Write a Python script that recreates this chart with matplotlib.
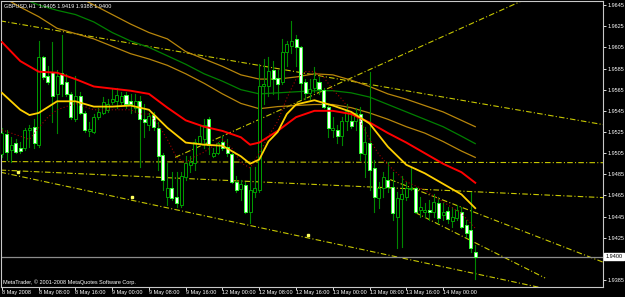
import matplotlib
matplotlib.use("Agg")
import matplotlib.pyplot as plt
from matplotlib import font_manager
from matplotlib.patches import Rectangle

installed = {f.name for f in font_manager.fontManager.ttflist}
if 'Liberation Sans Narrow' in installed:
    plt.rcParams['font.family'] = ['Liberation Sans Narrow', 'DejaVu Sans']
    fsize = 4.8
else:
    plt.rcParams['font.family'] = ['Liberation Sans', 'DejaVu Sans']
    fsize = 4.0

# GBPUSD H1, 8 May 2008 00:00 .. 14 May 2008 07:00 (104 bars)
opens = [1.9504, 1.9523, 1.9508, 1.9515, 1.9510, 1.9510, 1.9527, 1.9530, 1.9513, 1.9596,
         1.9578, 1.9582, 1.9561, 1.9581, 1.9572, 1.9561, 1.9537, 1.9559, 1.9543, 1.9526,
         1.9525, 1.9539, 1.9543, 1.9546, 1.9553, 1.9554, 1.9553, 1.9560, 1.9554, 1.9548,
         1.9554, 1.9537, 1.9532, 1.9541, 1.9529, 1.9503, 1.9464, 1.9472, 1.9464, 1.9456,
         1.9482, 1.9494, 1.9496, 1.9515, 1.9518, 1.9537, 1.9502, 1.9505, 1.9516, 1.9511,
         1.9504, 1.9478, 1.9471, 1.9475, 1.9449, 1.9468, 1.9470, 1.9568, 1.9568, 1.9584,
         1.9576, 1.9572, 1.9601, 1.9606, 1.9613, 1.9605, 1.9572, 1.9562, 1.9567, 1.9572,
         1.9565, 1.9549, 1.9527, 1.9527, 1.9521, 1.9535, 1.9535, 1.9535, 1.9542, 1.9504,
         1.9515, 1.9491, 1.9463, 1.9472, 1.9480, 1.9473, 1.9445, 1.9462, 1.9464, 1.9471,
         1.9472, 1.9451, 1.9449, 1.9451, 1.9449, 1.9458, 1.9447, 1.9450, 1.9441, 1.9444,
         1.9449, 1.9437, 1.9432, 1.9412]
highs = [1.9529, 1.9527, 1.9520, 1.9518, 1.9516, 1.9529, 1.9532, 1.9537, 1.9611, 1.9597,
         1.9587, 1.9610, 1.9584, 1.9617, 1.9580, 1.9563, 1.9578, 1.9563, 1.9545, 1.9534,
         1.9542, 1.9548, 1.9558, 1.9556, 1.9567, 1.9567, 1.9563, 1.9563, 1.9561, 1.9561,
         1.9559, 1.9551, 1.9543, 1.9544, 1.9534, 1.9505, 1.9496, 1.9487, 1.9487, 1.9487,
         1.9502, 1.9502, 1.9518, 1.9532, 1.9537, 1.9539, 1.9510, 1.9516, 1.9521, 1.9518,
         1.9505, 1.9483, 1.9480, 1.9478, 1.9492, 1.9492, 1.9589, 1.9594, 1.9596, 1.9592,
         1.9584, 1.9613, 1.9611, 1.9630, 1.9617, 1.9606, 1.9575, 1.9575, 1.9586, 1.9577,
         1.9567, 1.9551, 1.9539, 1.9532, 1.9539, 1.9551, 1.9542, 1.9548, 1.9549, 1.9530,
         1.9582, 1.9499, 1.9478, 1.9487, 1.9497, 1.9487, 1.9468, 1.9483, 1.9478, 1.9491,
         1.9473, 1.9464, 1.9458, 1.9461, 1.9466, 1.9464, 1.9458, 1.9454, 1.9454, 1.9456,
         1.9454, 1.9442, 1.9468, 1.9418]
lows = [1.9501, 1.9499, 1.9497, 1.9505, 1.9505, 1.9508, 1.9511, 1.9510, 1.9511, 1.9575,
        1.9570, 1.9534, 1.9524, 1.9559, 1.9559, 1.9537, 1.9535, 1.9542, 1.9525, 1.9521,
        1.9524, 1.9537, 1.9542, 1.9544, 1.9551, 1.9548, 1.9551, 1.9548, 1.9543, 1.9544,
        1.9492, 1.9520, 1.9527, 1.9527, 1.9489, 1.9470, 1.9456, 1.9461, 1.9454, 1.9454,
        1.9480, 1.9487, 1.9489, 1.9513, 1.9510, 1.9504, 1.9501, 1.9504, 1.9508, 1.9502,
        1.9477, 1.9468, 1.9461, 1.9448, 1.9439, 1.9464, 1.9468, 1.9551, 1.9559, 1.9561,
        1.9556, 1.9570, 1.9587, 1.9600, 1.9587, 1.9556, 1.9556, 1.9556, 1.9563, 1.9561,
        1.9548, 1.9520, 1.9520, 1.9515, 1.9513, 1.9527, 1.9529, 1.9527, 1.9499, 1.9482,
        1.9470, 1.9449, 1.9453, 1.9464, 1.9468, 1.9442, 1.9415, 1.9416, 1.9461, 1.9470,
        1.9448, 1.9445, 1.9445, 1.9442, 1.9445, 1.9439, 1.9442, 1.9439, 1.9435, 1.9442,
        1.9434, 1.9426, 1.9412, 1.9386]
closes = [1.9524, 1.9506, 1.9513, 1.9506, 1.9507, 1.9527, 1.9529, 1.9515, 1.9596, 1.9577,
          1.9572, 1.9559, 1.9578, 1.9570, 1.9561, 1.9539, 1.9559, 1.9543, 1.9527, 1.9528,
          1.9539, 1.9544, 1.9553, 1.9551, 1.9556, 1.9560, 1.9559, 1.9551, 1.9551, 1.9554,
          1.9537, 1.9534, 1.9540, 1.9530, 1.9502, 1.9480, 1.9472, 1.9463, 1.9458, 1.9483,
          1.9496, 1.9497, 1.9516, 1.9521, 1.9532, 1.9513, 1.9505, 1.9515, 1.9510, 1.9505,
          1.9478, 1.9470, 1.9476, 1.9449, 1.9470, 1.9472, 1.9568, 1.9570, 1.9583, 1.9575,
          1.9570, 1.9601, 1.9608, 1.9611, 1.9605, 1.9571, 1.9562, 1.9566, 1.9575, 1.9566,
          1.9549, 1.9529, 1.9529, 1.9521, 1.9535, 1.9545, 1.9531, 1.9543, 1.9505, 1.9516,
          1.9489, 1.9464, 1.9472, 1.9482, 1.9473, 1.9448, 1.9463, 1.9466, 1.9472, 1.9472,
          1.9449, 1.9454, 1.9451, 1.9449, 1.9459, 1.9444, 1.9449, 1.9443, 1.9445, 1.9451,
          1.9435, 1.9430, 1.9415, 1.9407]

# moving averages (bar index -> price)
red_x = [0, 4, 8, 12, 16, 20, 24, 28, 32, 36, 40, 44, 48, 52, 54, 56, 60, 64, 68, 72,
         76, 80, 84, 88, 92, 96, 100, 103]
red_y = [1.9610, 1.9592, 1.9582, 1.9581, 1.9575, 1.9568, 1.9566, 1.9564, 1.9561, 1.9548,
         1.9536, 1.9530, 1.9526, 1.9520, 1.9513, 1.9515, 1.9526, 1.9539, 1.9545, 1.9545,
         1.9542, 1.9534, 1.9524, 1.9515, 1.9505, 1.9495, 1.9487, 1.9477]
gold_x = [0, 4, 6, 8, 12, 16, 20, 24, 28, 32, 36, 40, 44, 48, 52, 54, 56, 58, 60, 62,
          64, 68, 72, 76, 80, 84, 88, 92, 96, 100, 103]
gold_y = [1.9562, 1.9546, 1.9541, 1.9543, 1.9554, 1.9554, 1.9549, 1.9549, 1.9550, 1.9546,
          1.9529, 1.9515, 1.9513, 1.9512, 1.9502, 1.9495, 1.9499, 1.9516, 1.9525, 1.9542,
          1.9551, 1.9555, 1.9550, 1.9544, 1.9533, 1.9511, 1.9494, 1.9486, 1.9476, 1.9466,
          1.9453]
dot_x = [0, 4, 6, 8, 10, 12, 16, 20, 24, 28, 30, 32, 34, 36, 38, 40, 42, 44, 46, 48,
         50, 52, 54, 56, 58, 60, 62, 64, 66, 68, 70, 72, 74, 76, 78, 80, 82, 84, 88, 92,
         96, 100, 103]
dot_y = [1.9527, 1.9521, 1.9518, 1.9529, 1.9539, 1.9546, 1.9552, 1.9546, 1.9546, 1.9546,
         1.9542, 1.9542, 1.9532, 1.9518, 1.9501, 1.9496, 1.9502, 1.9506, 1.9512, 1.9518,
         1.9510, 1.9496, 1.9491, 1.9505, 1.9521, 1.9535, 1.9557, 1.9575, 1.9582, 1.9582,
         1.9577, 1.9565, 1.9556, 1.9544, 1.9535, 1.9518, 1.9504, 1.9494, 1.9478, 1.9470,
         1.9459, 1.9448, 1.9434]
env_x = [0, 4, 8, 12, 16, 20, 24, 28, 32, 36, 40, 44, 48, 52, 56, 60, 64, 68, 72, 76,
         80, 84, 88, 92, 96, 100, 103]
green_y = [1.9658, 1.9652, 1.9645, 1.9640, 1.9636, 1.9629, 1.9619, 1.9611, 1.9605, 1.9597,
           1.9589, 1.9580, 1.9573, 1.9565, 1.9561, 1.9562, 1.9563, 1.9564, 1.9564, 1.9562,
           1.9558, 1.9551, 1.9544, 1.9537, 1.9530, 1.9521, 1.9514]
upper_y = [1.9684, 1.9677, 1.9670, 1.9662, 1.9654, 1.9645, 1.9636, 1.9627, 1.9619, 1.9613,
           1.9601, 1.9594, 1.9587, 1.9579, 1.9575, 1.9575, 1.9577, 1.9580, 1.9579, 1.9574,
           1.9568, 1.9561, 1.9556, 1.9550, 1.9544, 1.9536, 1.9530]
lower_y = [1.9653, 1.9643, 1.9634, 1.9623, 1.9618, 1.9613, 1.9606, 1.9599, 1.9594, 1.9588,
           1.9580, 1.9571, 1.9561, 1.9552, 1.9547, 1.9549, 1.9550, 1.9551, 1.9551, 1.9548,
           1.9543, 1.9537, 1.9530, 1.9524, 1.9516, 1.9507, 1.9501]

# hand drawn trend lines: (bar0, price0, bar1, price1)
trend_lines = [(-0.3, 1.9630, 130.8, 1.9532),
               (37.7, 1.9501, 114.2, 1.9651),
               (-0.3, 1.9497, 130.8, 1.9496),
               (-0.3, 1.9489, 130.8, 1.9463),
               (-0.3, 1.9487, 118.2, 1.9377),
               (84.5, 1.9480, 130.8, 1.9402),
               (89.9, 1.9449, 118.2, 1.9387)]
marks_x = [3.4, 28.4, 66.6]
marks_y = [1.9487, 1.9464, 1.9428]

tick_bars = [0, 8, 16, 24, 32, 40, 48, 56, 64, 72, 80, 88, 96]
tick_text = ["8 May 2008", "8 May 08:00", "8 May 16:00", "9 May 00:00", "9 May 08:00",
             "9 May 16:00", "12 May 00:00", "12 May 08:00", "12 May 16:00",
             "13 May 00:00", "13 May 08:00", "13 May 16:00", "14 May 00:00"]
price_ticks = [1.9645, 1.9625, 1.9605, 1.9585, 1.9565, 1.9545, 1.9525, 1.9505, 1.9485,
               1.9465, 1.9445, 1.9425, 1.9405, 1.9385]

fig = plt.figure(figsize=(6.25, 2.97), dpi=100, facecolor="black")
ax = fig.add_axes([1 / 625, 10 / 297, 602 / 625, 286 / 297], facecolor="black")

# trend lines first (behind everything)
for x0, y0, x1, y1 in trend_lines:
    ax.plot([x0, x1], [y0, y1], color="#c8c800", lw=0.8, ls=(0, (5, 2, 1, 2)), zorder=1)
ax.plot(marks_x, marks_y, ls="none", marker="s", ms=2, color="#ffff60", zorder=2)

# envelopes
ax.plot(env_x, upper_y, color="#b8860b", lw=0.9, zorder=2)
ax.plot(env_x, lower_y, color="#b8860b", lw=0.9, zorder=2)
ax.plot(env_x, green_y, color="#008000", lw=0.9, zorder=2)

# candles
for i in range(len(opens)):
    o, h, l, c = opens[i], highs[i], lows[i], closes[i]
    ax.plot([i, i], [l, h], color="#008800", lw=0.8, zorder=3)
    bottom = min(o, c)
    height = max(abs(c - o), 0.00005)
    if c >= o:
        face, edge = "black", "#00a000"
    else:
        face, edge = "white", "#30ff30"
    ax.add_patch(Rectangle((i - 0.33, bottom), 0.66, height, facecolor=face,
                           edgecolor=edge, lw=0.7, zorder=4))

ax.plot(dot_x, dot_y, color="#a00000", lw=0.8, ls=(0, (1, 2)), zorder=5)
ax.plot(red_x, red_y, color="#ff0000", lw=1.4, zorder=6)
ax.plot(gold_x, gold_y, color="#ffd000", lw=1.3, zorder=7)

# bid line
ax.axhline(closes[-1], color="#8c8c8c", lw=0.9, zorder=2)

ax.set_xlim(-0.2, 130.8)
ax.set_ylim(1.93785, 1.96488)

ax.yaxis.tick_right()
ax.set_yticks(price_ticks)
ax.set_yticklabels(["%.4f" % p for p in price_ticks])
ax.set_xticks(tick_bars)
ax.set_xticklabels(tick_text)
for lab in ax.get_xticklabels():
    lab.set_horizontalalignment("left")
ax.tick_params(axis="y", colors="white", labelsize=fsize, length=2, pad=1, width=0.6)
ax.tick_params(axis="x", colors="white", labelsize=fsize, length=2, pad=0.5, width=0.6)
for s in ax.spines.values():
    s.set_color("#c8c8c8")
    s.set_linewidth(0.8)

ax.text(1.004, closes[-1], "1.9400", transform=ax.get_yaxis_transform(),
        fontsize=fsize, color="black", va="center", ha="left", zorder=10,
        bbox=dict(boxstyle="square,pad=0.2", fc="white", ec="white"))

fig.text(4 / 625, 1 - 6 / 297, "GBPUSD,H1  1.9405 1.9419 1.9388 1.9400",
         color="white", fontsize=fsize, va="center", ha="left")
fig.text(3 / 625, 1 - 282 / 297, "MetaTrader, \u00a9 2001-2008 MetaQuotes Software Corp.",
         color="white", fontsize=fsize, va="center", ha="left")

fig.savefig("out.png", dpi=100, facecolor="black")
